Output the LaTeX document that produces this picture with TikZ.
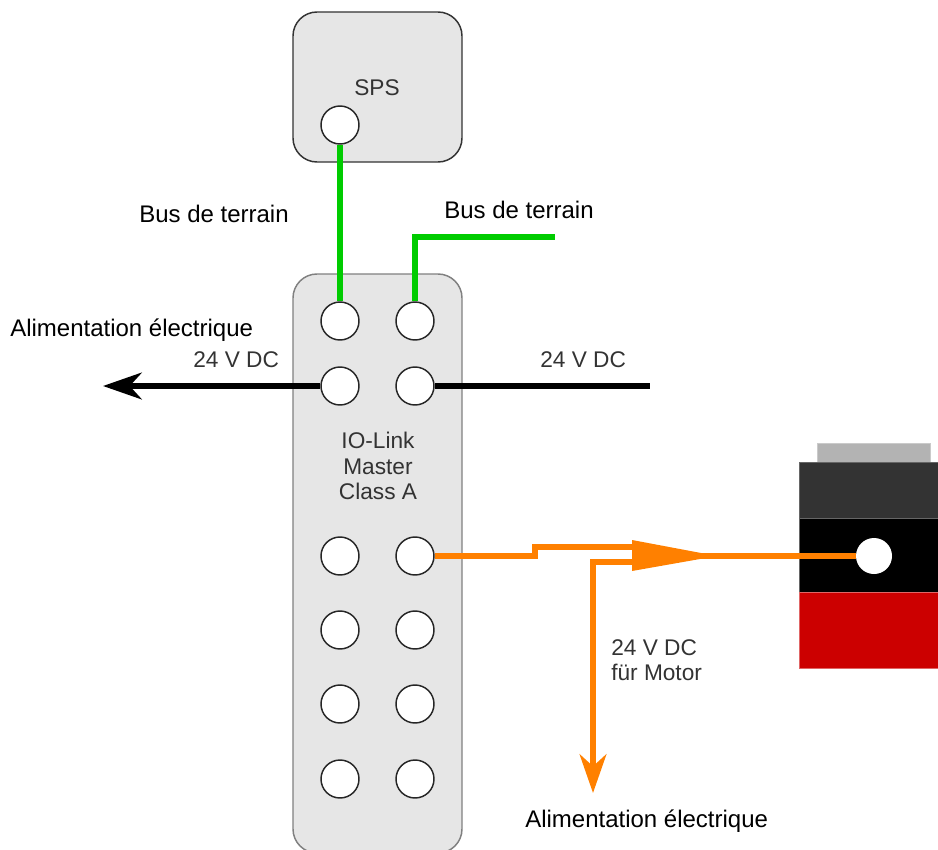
\documentclass[tikz,border=0pt]{standalone}
\usepackage{fontspec}
\setmainfont{Liberation Sans}
\usetikzlibrary{arrows.meta}
\definecolor{boxfill}{RGB}{230, 230, 230}
\definecolor{busgreen}{RGB}{0, 204, 0}
\definecolor{powerorange}{RGB}{255, 128, 0}
\definecolor{motorred}{RGB}{204, 0, 0}
\definecolor{motordark}{RGB}{51, 51, 51}
\definecolor{motorcap}{RGB}{179, 179, 179}
\definecolor{smalltext}{RGB}{51, 51, 51}
\tikzset{
	devicebox/.style={draw, fill=boxfill, line width=1.1pt, rounded corners=18pt, inner sep=0pt, minimum width=126.75pt},
	port/.style={draw=black!85, fill=white, circle, line width=1.1pt, inner sep=0pt, minimum size=28.5pt},
	motorpart/.style={line width=0.6pt},
	bigtext/.style={font=\fontsize{18}{21}\selectfont, color=black, inner sep=0pt},
	smalltxt/.style={font=\fontsize{17}{19.2}\selectfont, color=smalltext, inner sep=0pt, align=center},
	buswire/.style={draw=busgreen, line width=4.2pt},
	dcwire/.style={draw=black, line width=4.2pt},
	powerwire/.style={draw=powerorange, line width=4.2pt}
}
\begin{document}
\begin{tikzpicture}[x=0.75pt, y=-0.75pt]
	\clip (0,0) rectangle (938,849);

	% --- GERAETE ---
	\node[devicebox, draw=black!80, minimum height=112.5pt] (sps) at (377.5, 87) {};
	\node[devicebox, draw=black!50, minimum height=434.25pt] (master) at (377.5, 563.5) {};
	\node[smalltxt] (spslabel) at (377, 88) {SPS};
	\node[smalltxt] (masterlabel) at (378, 466) {IO-Link\\Master\\Class A};

	% --- ANSCHLUESSE ---
	\node[port] (spsport) at (340, 125) {};
	\foreach \row/\ypos in {1/321, 2/386, 3/556, 4/630, 5/704, 6/779} {
		\node[port] (l\row) at (340, \ypos) {};
		\node[port] (r\row) at (415, \ypos) {};
	}

	% --- MOTOR ---
	\draw[motorpart, draw=motorcap!70, fill=motorcap] (817, 443) rectangle (930, 462);
	\draw[motorpart, draw=black!60, fill=motordark] (799, 462) rectangle (945, 518);
	\draw[motorpart, draw=black!60, fill=black] (799, 518) rectangle (945, 592);
	\draw[motorpart, draw=motorred!60, fill=motorred] (799, 592) rectangle (945, 668);
	\node[circle, fill=white, inner sep=0pt, minimum size=27pt] (motorport) at (874, 556) {};

	% --- FREIE ENDEN ---
	\coordinate (busend) at (555, 237);
	\coordinate (dcin) at (650, 386);
	\coordinate (dcout) at (103, 386);
	\coordinate (splitback) at (632, 547);
	\coordinate (splitside) at (632, 562);
	\coordinate (splitbase) at (690, 556);
	\coordinate (splittip) at (717, 556);
	\coordinate (powerend) at (593, 793);

	% --- LEITUNGEN ---
	\draw[buswire] (spsport) -- (l1);
	\draw[buswire] (r1) |- (busend);
	\draw[dcwire, -{Stealth[length=29pt, width=20pt, inset=9pt]}] (l2) -- (dcout);
	\draw[dcwire] (r2) -- (dcin);
	\draw[powerwire] (r3) -- (535, 556) -- (535, 547) -- (splitback);
	\draw[powerwire, -{Stealth[length=29pt, width=20pt, inset=9pt]}] (splitside) -| (powerend);
	\fill[powerorange] (632, 540) -- (splittip) -- (632, 571) -- cycle;
	\draw[powerwire] (splitbase) -- (motorport);

	% --- BESCHRIFTUNG ---
	\node[bigtext, anchor=west] (buslabela) at (139, 214) {Bus de terrain};
	\node[bigtext, anchor=west] (buslabelb) at (444, 210) {Bus de terrain};
	\node[bigtext, anchor=west] (powerlabela) at (10, 330) {Alimentation électrique};
	\node[bigtext, anchor=west] (powerlabelb) at (525, 821) {Alimentation électrique};
	\node[smalltxt, anchor=west] (dclabela) at (193, 360) {24 V DC};
	\node[smalltxt, anchor=west] (dclabelb) at (540, 360) {24 V DC};
	\node[smalltxt, anchor=west, align=left] (motorlabel) at (611, 660) {24 V DC\\für Motor};
\end{tikzpicture}
\end{document}
